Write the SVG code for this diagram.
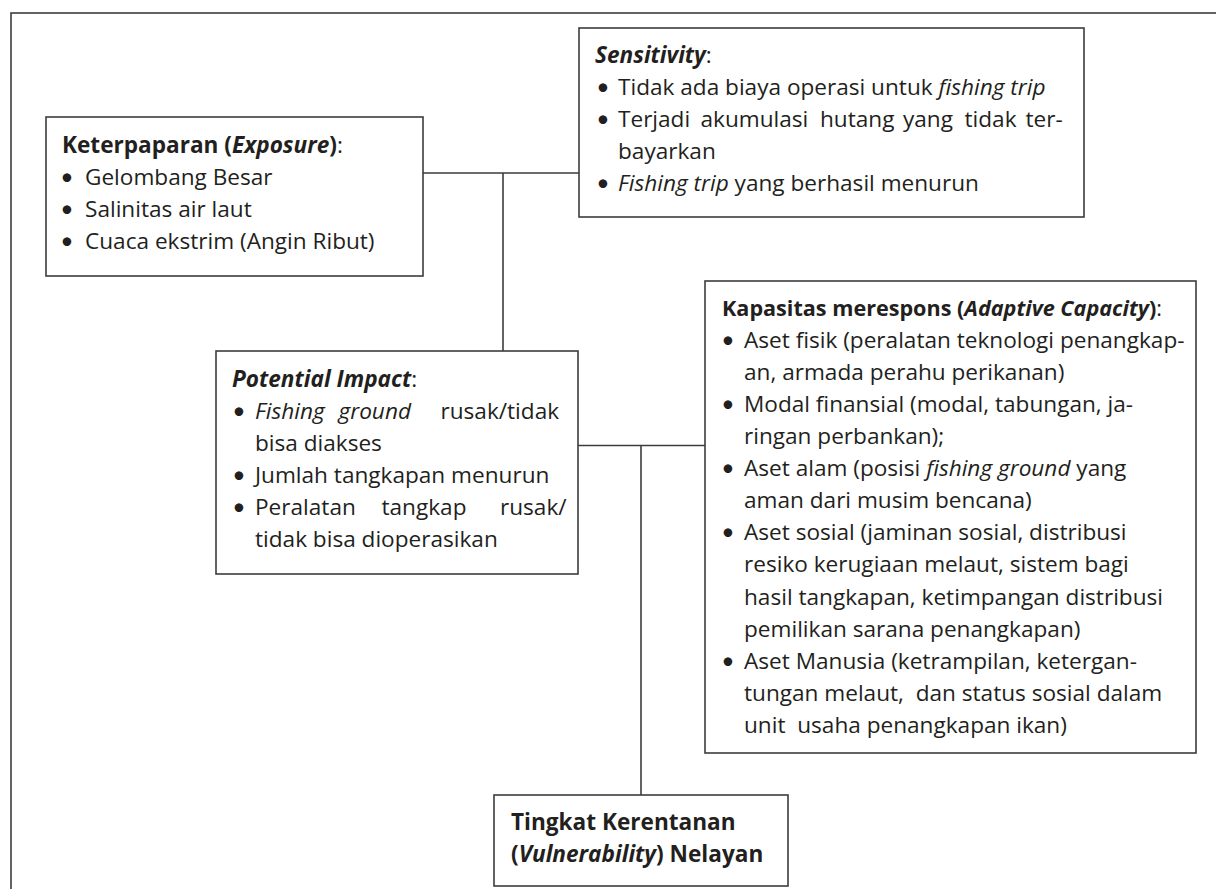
<svg xmlns="http://www.w3.org/2000/svg" width="1216" height="889" viewBox="0 0 1216 889">
<style>
.box{fill:#fff;stroke:#3d3d3d;stroke-width:1.6}
.ln{fill:none;stroke:#3d3d3d;stroke-width:1.6}
text{font-family:"Open Sans","Noto Sans",sans-serif;font-size:22.6px;fill:#231f20}
.b{font-weight:bold}
.i{font-style:italic}
.bu{text-anchor:middle;font-family:Lato,sans-serif;font-size:23px}
</style>
<rect width="1216" height="889" fill="#fff"/>
<rect x="11" y="13" width="1225" height="900" class="ln"/>
<g id="connectors">
<path class="ln" d="M423,173 H579 M503,173 V351 M578,445.5 H705 M641,445.5 V795"/>
</g>
<g id="exposure">
<rect class="box" x="46" y="117" width="377" height="159"/>
<text x="62" y="153"><tspan class="b">Keterpaparan (</tspan><tspan class="b i">Exposure</tspan><tspan class="b">)</tspan>:</text>
<text x="67" y="185" class="bu">•</text><text x="85" y="185">Gelombang Besar</text>
<text x="67" y="217" class="bu">•</text><text x="85" y="217">Salinitas air laut</text>
<text x="67" y="249" class="bu">•</text><text x="85" y="249">Cuaca ekstrim (Angin Ribut)</text>
</g>
<g id="sensitivity">
<rect class="box" x="579" y="28" width="505" height="189"/>
<text x="595" y="63"><tspan class="b i">Sensitivity</tspan>:</text>
<text x="603" y="95" class="bu">•</text><text x="618" y="95">Tidak ada biaya operasi untuk <tspan class="i">fishing trip</tspan></text>
<text x="603" y="127" class="bu">•</text><text y="127"><tspan x="618">Terjadi</tspan><tspan x="700.5">akumulasi</tspan><tspan x="820">hutang</tspan><tspan x="903">yang</tspan><tspan x="964.5">tidak</tspan><tspan x="1025.5">ter-</tspan></text>
<text x="618" y="159">bayarkan</text>
<text x="603" y="191" class="bu">•</text><text x="618" y="191"><tspan class="i">Fishing trip</tspan> yang berhasil menurun</text>
</g>
<g id="potential-impact">
<rect class="box" x="216" y="351" width="362" height="223"/>
<text x="232" y="387"><tspan class="b i">Potential Impact</tspan>:</text>
<text x="239" y="419" class="bu">•</text><text y="419"><tspan x="255" class="i">Fishing</tspan><tspan x="338.5" class="i">ground</tspan><tspan x="440.5">rusak/tidak</tspan></text>
<text x="255" y="451">bisa diakses</text>
<text x="239" y="483" class="bu">•</text><text x="255" y="483">Jumlah tangkapan menurun</text>
<text x="239" y="515" class="bu">•</text><text y="515"><tspan x="255">Peralatan</tspan><tspan x="381.5">tangkap</tspan><tspan x="500">rusak/</tspan></text>
<text x="255" y="547">tidak bisa dioperasikan</text>
</g>
<g id="adaptive-capacity">
<rect class="box" x="705" y="281" width="491" height="472"/>
<text x="722" y="316" style="font-size:21.6px"><tspan class="b">Kapasitas merespons (</tspan><tspan class="b i">Adaptive Capacity</tspan><tspan class="b">)</tspan>:</text>
<text x="728" y="348" class="bu">•</text><text x="744" y="348">Aset fisik (peralatan teknologi penangkap-</text>
<text x="744" y="380">an, armada perahu perikanan)</text>
<text x="728" y="412" class="bu">•</text><text x="744" y="412">Modal finansial (modal, tabungan, ja-</text>
<text x="744" y="444">ringan perbankan);</text>
<text x="728" y="476" class="bu">•</text><text x="744" y="476">Aset alam (posisi <tspan class="i">fishing ground</tspan> yang</text>
<text x="744" y="508">aman dari musim bencana)</text>
<text x="728" y="540" class="bu">•</text><text x="744" y="540">Aset sosial (jaminan sosial, distribusi</text>
<text x="744" y="572">resiko kerugiaan melaut, sistem bagi</text>
<text x="744" y="605">hasil tangkapan, ketimpangan distribusi</text>
<text x="744" y="637">pemilikan sarana penangkapan)</text>
<text x="728" y="669" class="bu">•</text><text x="744" y="669">Aset Manusia (ketrampilan, ketergan-</text>
<text x="744" y="701" xml:space="preserve">tungan melaut,  dan status sosial dalam</text>
<text x="744" y="733" xml:space="preserve">unit  usaha penangkapan ikan)</text>
</g>
<g id="vulnerability">
<rect class="box" x="494" y="795" width="294" height="91"/>
<text x="511" y="830" class="b">Tingkat Kerentanan</text>
<text x="511" y="862" class="b">(<tspan class="i">Vulnerability</tspan>) Nelayan</text>
</g>
</svg>
